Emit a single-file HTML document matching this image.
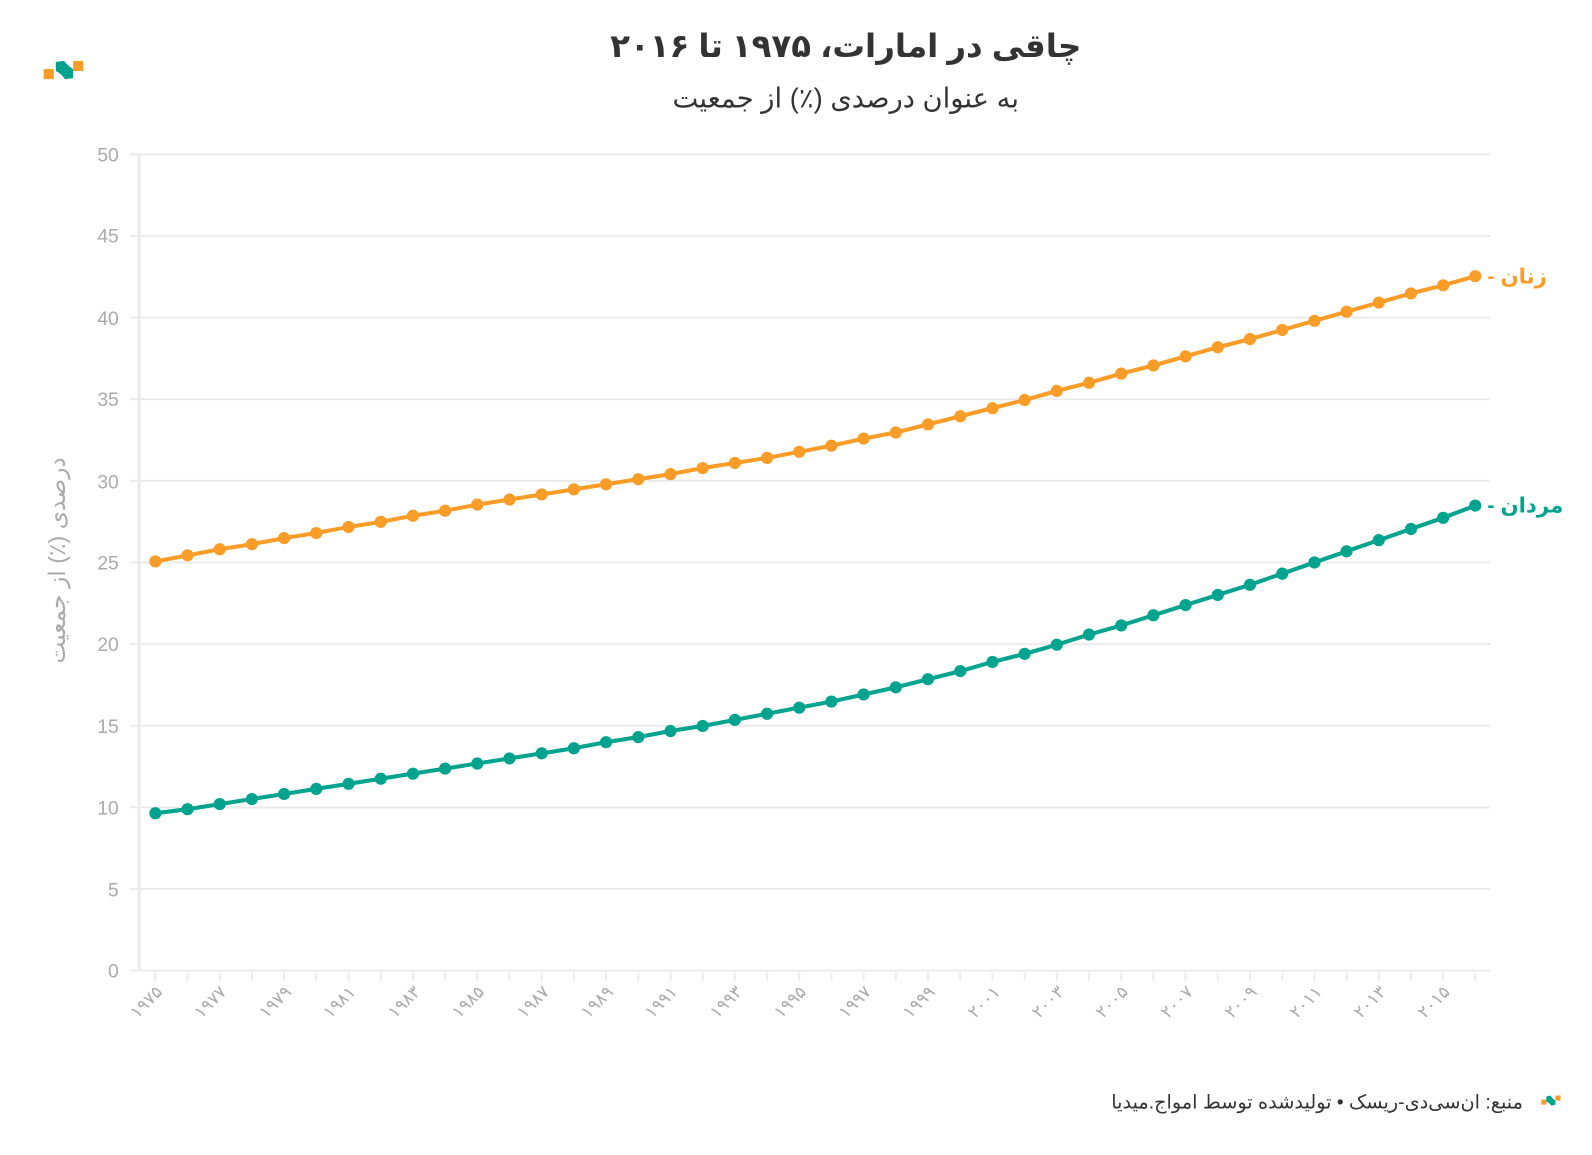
<!DOCTYPE html>
<html><head><meta charset="utf-8"><style>
body{margin:0;background:#fff;width:1592px;height:1150px;overflow:hidden}
svg text{font-family:"Liberation Sans","Noto Sans CJK SC","DejaVu Sans",sans-serif}
</style></head><body>
<svg width="1592" height="1150" xmlns="http://www.w3.org/2000/svg">
<g transform="scale(1.0153)">
<rect x="43" y="68" width="10" height="10" fill="#f99d28"/>
<rect x="72" y="60" width="10" height="10" fill="#f99d28"/>
<path d="M55 61 L63 60 Q68 66 72 68 L72 77 L64 78 Q60 72 55 70 Z" fill="#00a38d"/>
<text x="833" y="56" text-anchor="middle" font-size="32" font-weight="bold" fill="#333">چاقی در امارات، ۱۹۷۵ تا ۲۰۱۶</text>
<text x="833" y="106" text-anchor="middle" font-size="27" fill="#333">به عنوان درصدی (٪) از جمعیت</text>
<g stroke="#ebebeb" stroke-width="2">
<line x1="128" x2="1468" y1="956" y2="956"/><line x1="128" x2="1468" y1="875.6" y2="875.6"/><line x1="128" x2="1468" y1="795.2" y2="795.2"/><line x1="128" x2="1468" y1="714.8" y2="714.8"/><line x1="128" x2="1468" y1="634.4" y2="634.4"/><line x1="128" x2="1468" y1="554" y2="554"/><line x1="128" x2="1468" y1="473.6" y2="473.6"/><line x1="128" x2="1468" y1="393.2" y2="393.2"/><line x1="128" x2="1468" y1="312.8" y2="312.8"/><line x1="128" x2="1468" y1="232.4" y2="232.4"/><line x1="128" x2="1468" y1="152" y2="152"/>
<line x1="137" x2="137" y1="152" y2="956" stroke-width="3"/>
</g>
<g stroke="#ebebeb" stroke-width="2">
<path d="M153 958v8M184.7 958v8M216.4 958v8M248.1 958v8M279.8 958v8M311.5 958v8M343.3 958v8M375 958v8M406.7 958v8M438.4 958v8M470.1 958v8M501.8 958v8M533.5 958v8M565.2 958v8M596.9 958v8M628.7 958v8M660.4 958v8M692.1 958v8M723.8 958v8M755.5 958v8M787.2 958v8M818.9 958v8M850.6 958v8M882.3 958v8M914 958v8M945.8 958v8M977.5 958v8M1009.2 958v8M1040.9 958v8M1072.6 958v8M1104.3 958v8M1136 958v8M1167.7 958v8M1199.4 958v8M1231.1 958v8M1262.9 958v8M1294.6 958v8M1326.3 958v8M1358 958v8M1389.7 958v8M1421.4 958v8M1453 958v8"/>
</g>
<g font-size="19" fill="#aaa" text-anchor="end">
<text x="117" y="963">0</text><text x="117" y="883">5</text><text x="117" y="802">10</text><text x="117" y="722">15</text><text x="117" y="641">20</text><text x="117" y="561">25</text><text x="117" y="481">30</text><text x="117" y="400">35</text><text x="117" y="320">40</text><text x="117" y="239">45</text><text x="117" y="159">50</text>
</g>
<text transform="translate(64,552) rotate(-90)" text-anchor="middle" font-size="23" fill="#aaa">درصدی (٪) از جمعیت</text>
<g font-size="17" fill="#aaa" text-anchor="end">
<text transform="translate(161,978) rotate(-45)">۱۹۷۵</text>
<text transform="translate(224,978) rotate(-45)">۱۹۷۷</text>
<text transform="translate(288,978) rotate(-45)">۱۹۷۹</text>
<text transform="translate(351,978) rotate(-45)">۱۹۸۱</text>
<text transform="translate(415,978) rotate(-45)">۱۹۸۳</text>
<text transform="translate(478,978) rotate(-45)">۱۹۸۵</text>
<text transform="translate(542,978) rotate(-45)">۱۹۸۷</text>
<text transform="translate(605,978) rotate(-45)">۱۹۸۹</text>
<text transform="translate(668,978) rotate(-45)">۱۹۹۱</text>
<text transform="translate(732,978) rotate(-45)">۱۹۹۳</text>
<text transform="translate(795,978) rotate(-45)">۱۹۹۵</text>
<text transform="translate(859,978) rotate(-45)">۱۹۹۷</text>
<text transform="translate(922,978) rotate(-45)">۱۹۹۹</text>
<text transform="translate(986,978) rotate(-45)">۲۰۰۱</text>
<text transform="translate(1049,978) rotate(-45)">۲۰۰۳</text>
<text transform="translate(1112,978) rotate(-45)">۲۰۰۵</text>
<text transform="translate(1176,978) rotate(-45)">۲۰۰۷</text>
<text transform="translate(1239,978) rotate(-45)">۲۰۰۹</text>
<text transform="translate(1303,978) rotate(-45)">۲۰۱۱</text>
<text transform="translate(1366,978) rotate(-45)">۲۰۱۳</text>
<text transform="translate(1429,978) rotate(-45)">۲۰۱۵</text>
</g>
<polyline fill="none" stroke="#f99d28" stroke-width="4" points="153,553 184.7,547 216.4,541 248.1,536 279.8,530 311.5,525 343.3,519 375,514 406.7,508 438.4,503 470.1,497 501.8,492 533.5,487 565.2,482 596.9,477 628.7,472 660.4,467 692.1,461 723.8,456 755.5,451 787.2,445 818.9,439 850.6,432 882.3,426 914,418 945.8,410 977.5,402 1009.2,394 1040.9,385 1072.6,377 1104.3,368 1136,360 1167.7,351 1199.4,342 1231.1,334 1262.9,325 1294.6,316 1326.3,307 1358,298 1389.7,289 1421.4,281 1453,272"/>
<g fill="#f99d28">
<circle cx="153" cy="553" r="6"/><circle cx="184.7" cy="547" r="6"/><circle cx="216.4" cy="541" r="6"/><circle cx="248.1" cy="536" r="6"/><circle cx="279.8" cy="530" r="6"/><circle cx="311.5" cy="525" r="6"/><circle cx="343.3" cy="519" r="6"/><circle cx="375" cy="514" r="6"/><circle cx="406.7" cy="508" r="6"/><circle cx="438.4" cy="503" r="6"/><circle cx="470.1" cy="497" r="6"/><circle cx="501.8" cy="492" r="6"/><circle cx="533.5" cy="487" r="6"/><circle cx="565.2" cy="482" r="6"/><circle cx="596.9" cy="477" r="6"/><circle cx="628.7" cy="472" r="6"/><circle cx="660.4" cy="467" r="6"/><circle cx="692.1" cy="461" r="6"/><circle cx="723.8" cy="456" r="6"/><circle cx="755.5" cy="451" r="6"/><circle cx="787.2" cy="445" r="6"/><circle cx="818.9" cy="439" r="6"/><circle cx="850.6" cy="432" r="6"/><circle cx="882.3" cy="426" r="6"/><circle cx="914" cy="418" r="6"/><circle cx="945.8" cy="410" r="6"/><circle cx="977.5" cy="402" r="6"/><circle cx="1009.2" cy="394" r="6"/><circle cx="1040.9" cy="385" r="6"/><circle cx="1072.6" cy="377" r="6"/><circle cx="1104.3" cy="368" r="6"/><circle cx="1136" cy="360" r="6"/><circle cx="1167.7" cy="351" r="6"/><circle cx="1199.4" cy="342" r="6"/><circle cx="1231.1" cy="334" r="6"/><circle cx="1262.9" cy="325" r="6"/><circle cx="1294.6" cy="316" r="6"/><circle cx="1326.3" cy="307" r="6"/><circle cx="1358" cy="298" r="6"/><circle cx="1389.7" cy="289" r="6"/><circle cx="1421.4" cy="281" r="6"/><circle cx="1453" cy="272" r="6"/>
</g>
<polyline fill="none" stroke="#00a38d" stroke-width="4" points="153,801 184.7,797 216.4,792 248.1,787 279.8,782 311.5,777 343.3,772 375,767 406.7,762 438.4,757 470.1,752 501.8,747 533.5,742 565.2,737 596.9,731 628.7,726 660.4,720 692.1,715 723.8,709 755.5,703 787.2,697 818.9,691 850.6,684 882.3,677 914,669 945.8,661 977.5,652 1009.2,644 1040.9,635 1072.6,625 1104.3,616 1136,606 1167.7,596 1199.4,586 1231.1,576 1262.9,565 1294.6,554 1326.3,543 1358,532 1389.7,521 1421.4,510 1453,498"/>
<g fill="#00a38d">
<circle cx="153" cy="801" r="6"/><circle cx="184.7" cy="797" r="6"/><circle cx="216.4" cy="792" r="6"/><circle cx="248.1" cy="787" r="6"/><circle cx="279.8" cy="782" r="6"/><circle cx="311.5" cy="777" r="6"/><circle cx="343.3" cy="772" r="6"/><circle cx="375" cy="767" r="6"/><circle cx="406.7" cy="762" r="6"/><circle cx="438.4" cy="757" r="6"/><circle cx="470.1" cy="752" r="6"/><circle cx="501.8" cy="747" r="6"/><circle cx="533.5" cy="742" r="6"/><circle cx="565.2" cy="737" r="6"/><circle cx="596.9" cy="731" r="6"/><circle cx="628.7" cy="726" r="6"/><circle cx="660.4" cy="720" r="6"/><circle cx="692.1" cy="715" r="6"/><circle cx="723.8" cy="709" r="6"/><circle cx="755.5" cy="703" r="6"/><circle cx="787.2" cy="697" r="6"/><circle cx="818.9" cy="691" r="6"/><circle cx="850.6" cy="684" r="6"/><circle cx="882.3" cy="677" r="6"/><circle cx="914" cy="669" r="6"/><circle cx="945.8" cy="661" r="6"/><circle cx="977.5" cy="652" r="6"/><circle cx="1009.2" cy="644" r="6"/><circle cx="1040.9" cy="635" r="6"/><circle cx="1072.6" cy="625" r="6"/><circle cx="1104.3" cy="616" r="6"/><circle cx="1136" cy="606" r="6"/><circle cx="1167.7" cy="596" r="6"/><circle cx="1199.4" cy="586" r="6"/><circle cx="1231.1" cy="576" r="6"/><circle cx="1262.9" cy="565" r="6"/><circle cx="1294.6" cy="554" r="6"/><circle cx="1326.3" cy="543" r="6"/><circle cx="1358" cy="532" r="6"/><circle cx="1389.7" cy="521" r="6"/><circle cx="1421.4" cy="510" r="6"/><circle cx="1453" cy="498" r="6"/>
</g>
<text x="1465" y="279" font-size="21" font-weight="bold" fill="#f99d28">- <tspan>زنان</tspan></text>
<text x="1465" y="505" font-size="21" font-weight="bold" fill="#00a38d">- <tspan>مردان</tspan></text>
<text x="1500" y="1092" text-anchor="end" font-size="19" fill="#333">منبع: ان‌سی‌دی-ریسک • تولیدشده توسط امواج.میدیا</text>
<rect x="1518" y="1083" width="5" height="5" fill="#f99d28"/>
<rect x="1532" y="1079" width="5" height="5" fill="#f99d28"/>
<path d="M1523 1080 L1527 1079 Q1529 1082 1532 1084 L1532 1088 L1528 1089 Q1526 1086 1523 1085 Z" fill="#00a38d"/>
</g>
</svg>
</body></html>
